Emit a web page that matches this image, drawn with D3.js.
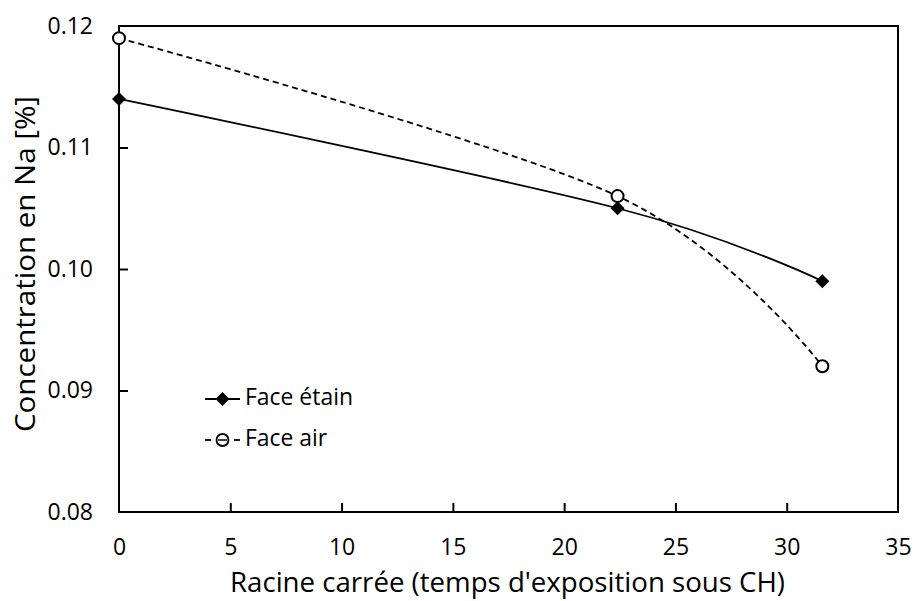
<!DOCTYPE html>
<html>
<head>
<meta charset="utf-8">
<script src="https://cdn.jsdelivr.net/npm/d3@7"></script>
<style>
  html, body { margin: 0; padding: 0; background: #fff; }
  text { font-family: "Open Sans", "Liberation Sans", sans-serif; fill: #000; }
</style>
</head>
<body>
<svg id="chart" width="914" height="601"></svg>
<script>
// Sodium concentration vs square root of exposure time
const xValues = [0, 22.4, 31.6];
const faceEtain = [0.114, 0.105, 0.099];
const faceAir = [0.119, 0.106, 0.092];
const xTicks = [0, 5, 10, 15, 20, 25, 30, 35];
const yTicks = [0.08, 0.09, 0.10, 0.11, 0.12];
const seriesNames = ["Face étain", "Face air"];

const svg = d3.select("#chart");
const margin = { left: 119, right: 16, top: 26, bottom: 89 };
const W = 914, H = 601;
const x = d3.scaleLinear().domain([0, 35]).range([margin.left, W - margin.right]);
const y = d3.scaleLinear().domain([0.08, 0.12]).range([H - margin.bottom, margin.top]);

// Frame
svg.append("rect")
  .attr("x", x(0)).attr("y", y(0.12))
  .attr("width", x(35) - x(0)).attr("height", y(0.08) - y(0.12))
  .attr("fill", "none").attr("stroke", "#000").attr("stroke-width", 2);

// Axes with inward ticks
const xAxis = svg.append("g").attr("transform", `translate(0,${y(0.08)})`)
  .call(d3.axisBottom(x).tickValues(xTicks).tickSize(-9).tickPadding(27).tickFormat(d3.format("d")));
const yAxis = svg.append("g").attr("transform", `translate(${x(0)},0)`)
  .call(d3.axisLeft(y).tickValues(yTicks).tickSize(-9).tickPadding(26).tickFormat(d3.format(".2f")));
[xAxis, yAxis].forEach(g => {
  g.select(".domain").remove();
  g.selectAll(".tick line").attr("stroke", "#000").attr("stroke-width", 2);
  g.selectAll(".tick text").style("font-size", "23px").attr("fill", "#000");
});
xAxis.selectAll(".tick line").filter(d => d === 0 || d === 35).remove();
yAxis.selectAll(".tick line").filter(d => d === 0.08 || d === 0.12).remove();

// Axis titles
svg.append("text")
  .attr("x", (x(0) + x(35)) / 2 - 1).attr("y", 592)
  .attr("text-anchor", "middle").style("font-size", "27px")
  .attr("textLength", 555).attr("lengthAdjust", "spacingAndGlyphs")
  .text("Racine carrée (temps d'exposition sous CH)");
svg.append("text")
  .attr("transform", `translate(35,264) rotate(-90)`)
  .attr("text-anchor", "middle").style("font-size", "27px")
  .attr("textLength", 336).attr("lengthAdjust", "spacingAndGlyphs")
  .text("Concentration en Na [%]");

// Smoothed lines
const line = d3.line().x(d => x(d[0])).y(d => y(d[1])).curve(d3.curveCardinal.tension(0));
const etainPts = xValues.map((v, i) => [v, faceEtain[i]]);
const airPts = xValues.map((v, i) => [v, faceAir[i]]);

svg.append("path").datum(airPts).attr("d", line)
  .attr("fill", "none").attr("stroke", "#000").attr("stroke-width", 1.8)
  .attr("stroke-dasharray", "6,4");
svg.append("path").datum(etainPts).attr("d", line)
  .attr("fill", "none").attr("stroke", "#000").attr("stroke-width", 1.8);

function diamondPath(cx, cy, s) {
  return `M${cx},${cy - s}L${cx + s},${cy}L${cx},${cy + s}L${cx - s},${cy}Z`;
}

svg.selectAll(".m-etain").data(etainPts).enter().append("path")
  .attr("d", d => diamondPath(x(d[0]), y(d[1]), 7))
  .attr("fill", "#000");
svg.selectAll(".m-air").data(airPts).enter().append("circle")
  .attr("cx", d => x(d[0])).attr("cy", d => y(d[1])).attr("r", 6)
  .attr("fill", "#fff").attr("stroke", "#000").attr("stroke-width", 2);

// Legend
const lg = svg.append("g");
lg.append("line").attr("x1", 205).attr("x2", 240).attr("y1", 399).attr("y2", 399)
  .attr("stroke", "#000").attr("stroke-width", 1.8);
lg.append("path").attr("d", diamondPath(222.5, 399, 7)).attr("fill", "#000");
lg.append("text").attr("x", 245).attr("y", 405).style("font-size", "23px")
  .attr("textLength", 108).attr("lengthAdjust", "spacingAndGlyphs").text(seriesNames[0]);

lg.append("line").attr("x1", 205).attr("x2", 211).attr("y1", 440).attr("y2", 440)
  .attr("stroke", "#000").attr("stroke-width", 1.8);
lg.append("line").attr("x1", 234).attr("x2", 240).attr("y1", 440).attr("y2", 440)
  .attr("stroke", "#000").attr("stroke-width", 1.8);
lg.append("circle").attr("cx", 222.5).attr("cy", 440).attr("r", 6)
  .attr("fill", "#fff").attr("stroke", "#000").attr("stroke-width", 1.8);
lg.append("line").attr("x1", 218).attr("x2", 227).attr("y1", 440).attr("y2", 440)
  .attr("stroke", "#000").attr("stroke-width", 1.5);
lg.append("text").attr("x", 245).attr("y", 446).style("font-size", "23px")
  .attr("textLength", 82).attr("lengthAdjust", "spacingAndGlyphs").text(seriesNames[1]);
</script>
</body>
</html>
